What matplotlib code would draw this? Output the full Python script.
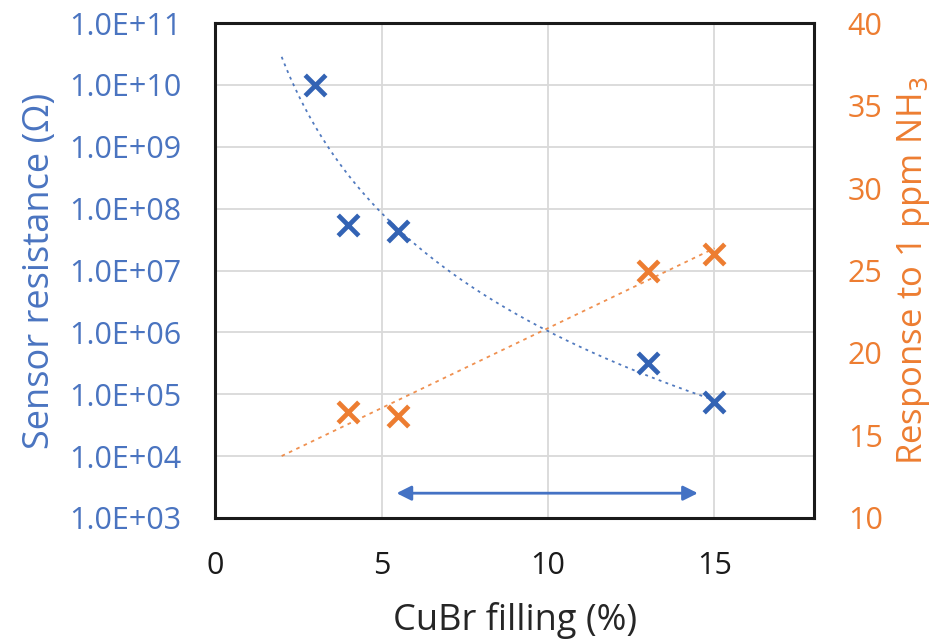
import numpy as np
import matplotlib
matplotlib.use("Agg")
import matplotlib.pyplot as plt
from matplotlib.ticker import FixedLocator, FuncFormatter

# ---- data ----
res_x = [3, 4, 5.5, 13, 15]
res_y = [1.0e10, 5.5e7, 4.3e7, 3.2e5, 7.4e4]
resp_x = [4, 5.5, 13, 15]
resp_y = [16.4, 16.2, 25.0, 26.0]
trend_x_range = [2, 15]
arrow_x = [5.45, 14.5]
arrow_y = 11.5
left_ticks = [1e3, 1e4, 1e5, 1e6, 1e7, 1e8, 1e9, 1e10, 1e11]
right_ticks = [10, 15, 20, 25, 30, 35, 40]
x_ticks = [0, 5, 10, 15]

BLUE = "#3363b4"
BLUE_LBL = "#4a74c0"
ORANGE = "#ED7D31"
FONT = "Open Sans"

plt.rcParams['font.family'] = [FONT, 'DejaVu Sans']

fig = plt.figure(figsize=(9.35, 6.41), dpi=100)
ax = fig.add_axes([0.230, 0.192, 0.641, 0.772])
ax2 = ax.twinx()

# power trendline for resistance (fit in log-log)
b, a = np.polyfit(np.log10(res_x), np.log10(res_y), 1)
tx = np.linspace(trend_x_range[0], trend_x_range[1], 200)
ax.plot(tx, 10 ** (a + b * np.log10(tx)), ls=(0, (1.6, 2.4)), color=BLUE, lw=1.3, alpha=0.85, zorder=2)
ax.scatter(res_x, res_y, marker='x', s=220, linewidths=3.4, color=BLUE, zorder=3)

ax.set_yscale('log')
ax.set_ylim(1e3, 1e11)
ax.set_xlim(0, 18)
ax.yaxis.set_major_locator(FixedLocator(left_ticks))
ax.yaxis.set_minor_locator(FixedLocator([]))
ax.yaxis.set_major_formatter(FuncFormatter(lambda v, p: "1.0E+%02d" % int(round(np.log10(v)))))
ax.set_xticks(x_ticks)
ax.grid(True, color="#d9d9d9", lw=1.3)
ax.set_axisbelow(True)

# linear trendline for response
m, c = np.polyfit(resp_x, resp_y, 1)
lx = np.array(trend_x_range, dtype=float)
ax2.plot(lx, m * lx + c, ls=(0, (2, 2.5)), color=ORANGE, lw=1.3, alpha=0.85, zorder=2)
ax2.scatter(resp_x, resp_y, marker='x', s=220, linewidths=3.4, color=ORANGE, zorder=3)
ax2.set_ylim(10, 40)
ax2.set_yticks(right_ticks)

ax2.annotate("", xy=(arrow_x[0], arrow_y), xytext=(arrow_x[1], arrow_y),
             arrowprops=dict(arrowstyle="<|-|>", color="#4472C4", lw=2,
                             mutation_scale=22, shrinkA=0, shrinkB=0))

for s in ax.spines.values():
    s.set_linewidth(2.2)
    s.set_color("#1a1a1a")
for s in ax2.spines.values():
    s.set_visible(False)

ax.tick_params(axis='y', length=0, pad=24, labelsize=22, labelcolor=BLUE_LBL)
ax.tick_params(axis='x', length=0, pad=24, labelsize=22, labelcolor="#1a1a1a")
ax2.tick_params(axis='y', length=0, pad=24, labelsize=22, labelcolor=ORANGE)

ax.set_xlabel("CuBr filling (%)", fontsize=26, color="#262626", labelpad=15)
ax.set_ylabel("Sensor resistance (Ω)", fontsize=26, color=BLUE_LBL, labelpad=8)
ax2.set_ylabel("Response to 1 ppm NH$_3$", fontsize=25, color=ORANGE, labelpad=9)

fig.savefig("out.png", dpi=100)
